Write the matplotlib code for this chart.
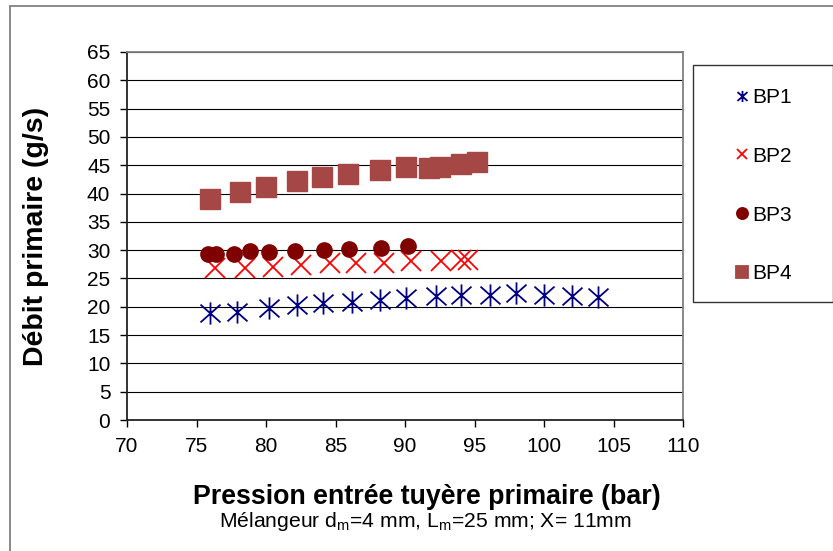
import matplotlib
matplotlib.use("Agg")
import matplotlib.pyplot as plt
from matplotlib.path import Path
from matplotlib.patches import Rectangle
from matplotlib.lines import Line2D

plt.rcParams['font.family'] = ['Liberation Sans', 'DejaVu Sans']
plt.rcParams['mathtext.fontset'] = 'custom'
plt.rcParams['mathtext.rm'] = 'Liberation Sans'

# données
bp1_p = [76.0, 77.9, 80.2, 82.2, 84.1, 86.2, 88.2, 90.1, 92.2, 94.0, 96.1, 98.0, 100.0, 102.0, 103.9]
bp1_q = [18.9, 19.1, 19.7, 20.3, 20.7, 20.9, 21.2, 21.6, 21.9, 22.1, 22.1, 22.4, 22.1, 21.9, 21.8]

bp2_p = [76.3, 78.5, 80.5, 82.5, 84.6, 86.5, 88.5, 90.4, 92.6, 94.0, 94.5]
bp2_q = [26.8, 26.8, 27.1, 27.4, 27.7, 27.7, 27.8, 28.0, 28.0, 28.2, 28.3]

bp3_p = [75.8, 76.4, 77.7, 78.85, 80.2, 82.1, 84.2, 86.0, 88.25, 90.2]
bp3_q = [29.3, 29.3, 29.3, 29.9, 29.6, 29.9, 30.0, 30.2, 30.45, 30.65]

bp4_p = [76.0, 78.1, 80.0, 82.2, 84.0, 85.9, 88.2, 90.1, 91.7, 92.5, 94.0, 95.2]
bp4_q = [39.0, 40.2, 41.1, 42.2, 43.0, 43.5, 44.2, 44.7, 44.5, 44.6, 45.3, 45.6]

labels = ['BP1', 'BP2', 'BP3', 'BP4']
colors = ['#000080', '#ff0000', '#800000', '#a54744']

xticks = list(range(70, 111, 5))
yticks = list(range(0, 66, 5))

# marqueur étoile façon Excel
star = Path([(0, -1), (0, 1), (-0.9, -0.8), (0.9, 0.8), (-0.9, 0.8), (0.9, -0.8)],
            [Path.MOVETO, Path.LINETO] * 3)
markers = [star, 'x', 'o', 's']

W, H = 833, 551
fig = plt.figure(figsize=(W / 100, H / 100), dpi=100)
ax = fig.add_axes([127 / W, 1 - 420 / H, 556 / W, 368 / H])

ax.plot(bp1_p, bp1_q, ls='none', marker=star, ms=16, mew=1.3,
        color=colors[0], fillstyle='none')
ax.plot(bp2_p, bp2_q, ls='none', marker='x', ms=15, mew=1.3, color=colors[1])
ax.plot(bp3_p, bp3_q, ls='none', marker='o', ms=11, color=colors[2])
ax.plot(bp4_p, bp4_q, ls='none', marker='s', ms=14, color=colors[3])

ax.set_xlim(70, 110)
ax.set_ylim(0, 65)
ax.set_xticks(xticks)
ax.set_yticks(yticks)
ax.tick_params(labelsize=15, length=5, width=1, direction='out', pad=7)
ax.grid(axis='y', color='black', lw=0.8)
ax.set_axisbelow(True)
for s in ['left', 'bottom']:
    ax.spines[s].set_color('#222222')
    ax.spines[s].set_linewidth(1.3)
for s in ['top', 'right']:
    ax.spines[s].set_color('#808080')
    ax.spines[s].set_linewidth(1.3)

ax.set_ylabel('Débit primaire (g/s)', fontsize=20.5, fontweight='bold')
ax.yaxis.label.set_va('center')
ax.yaxis.set_label_coords((36 - 127) / 556, 0.5)

fig.text(427 / W, 1 - 504 / H, 'Pression entrée tuyère primaire (bar)',
         fontsize=19.3, fontweight='bold', ha='center', va='baseline')
fig.text(425 / W, 1 - 527 / H,
         r'Mélangeur d$_\mathrm{m}$=4 mm, L$_\mathrm{m}$=25 mm; X= 11mm',
         fontsize=15.2, ha='center', va='baseline')

# légende (marqueurs plus petits que dans le graphique)
leg_sizes = [8, 7, 8, 8.5]
handles = [Line2D([], [], ls='none', marker=m, ms=s, mew=1.3, color=c,
                  fillstyle='none' if m is star else 'full')
           for m, s, c in zip(markers, leg_sizes, colors)]
ax.legend(handles=handles, labels=labels, loc='upper left',
          bbox_to_anchor=(736 / W, 1 - 88 / H), bbox_transform=fig.transFigure,
          frameon=False, fontsize=15, borderpad=0, borderaxespad=0,
          handlelength=0.6, handletextpad=0.2, labelspacing=1.91)

# cadre de la légende et du graphique
fig.patches.append(Rectangle((693 / W, 1 - 302 / H), 139.5 / W, 237 / H,
                             transform=fig.transFigure, fill=False,
                             ec='#333333', lw=1))
fig.patches.append(Rectangle((10 / W, -0.5), 2, 1.5 - 6 / H,
                             transform=fig.transFigure, fill=False,
                             ec='#808080', lw=1.3))

fig.savefig('out.png', dpi=100)
